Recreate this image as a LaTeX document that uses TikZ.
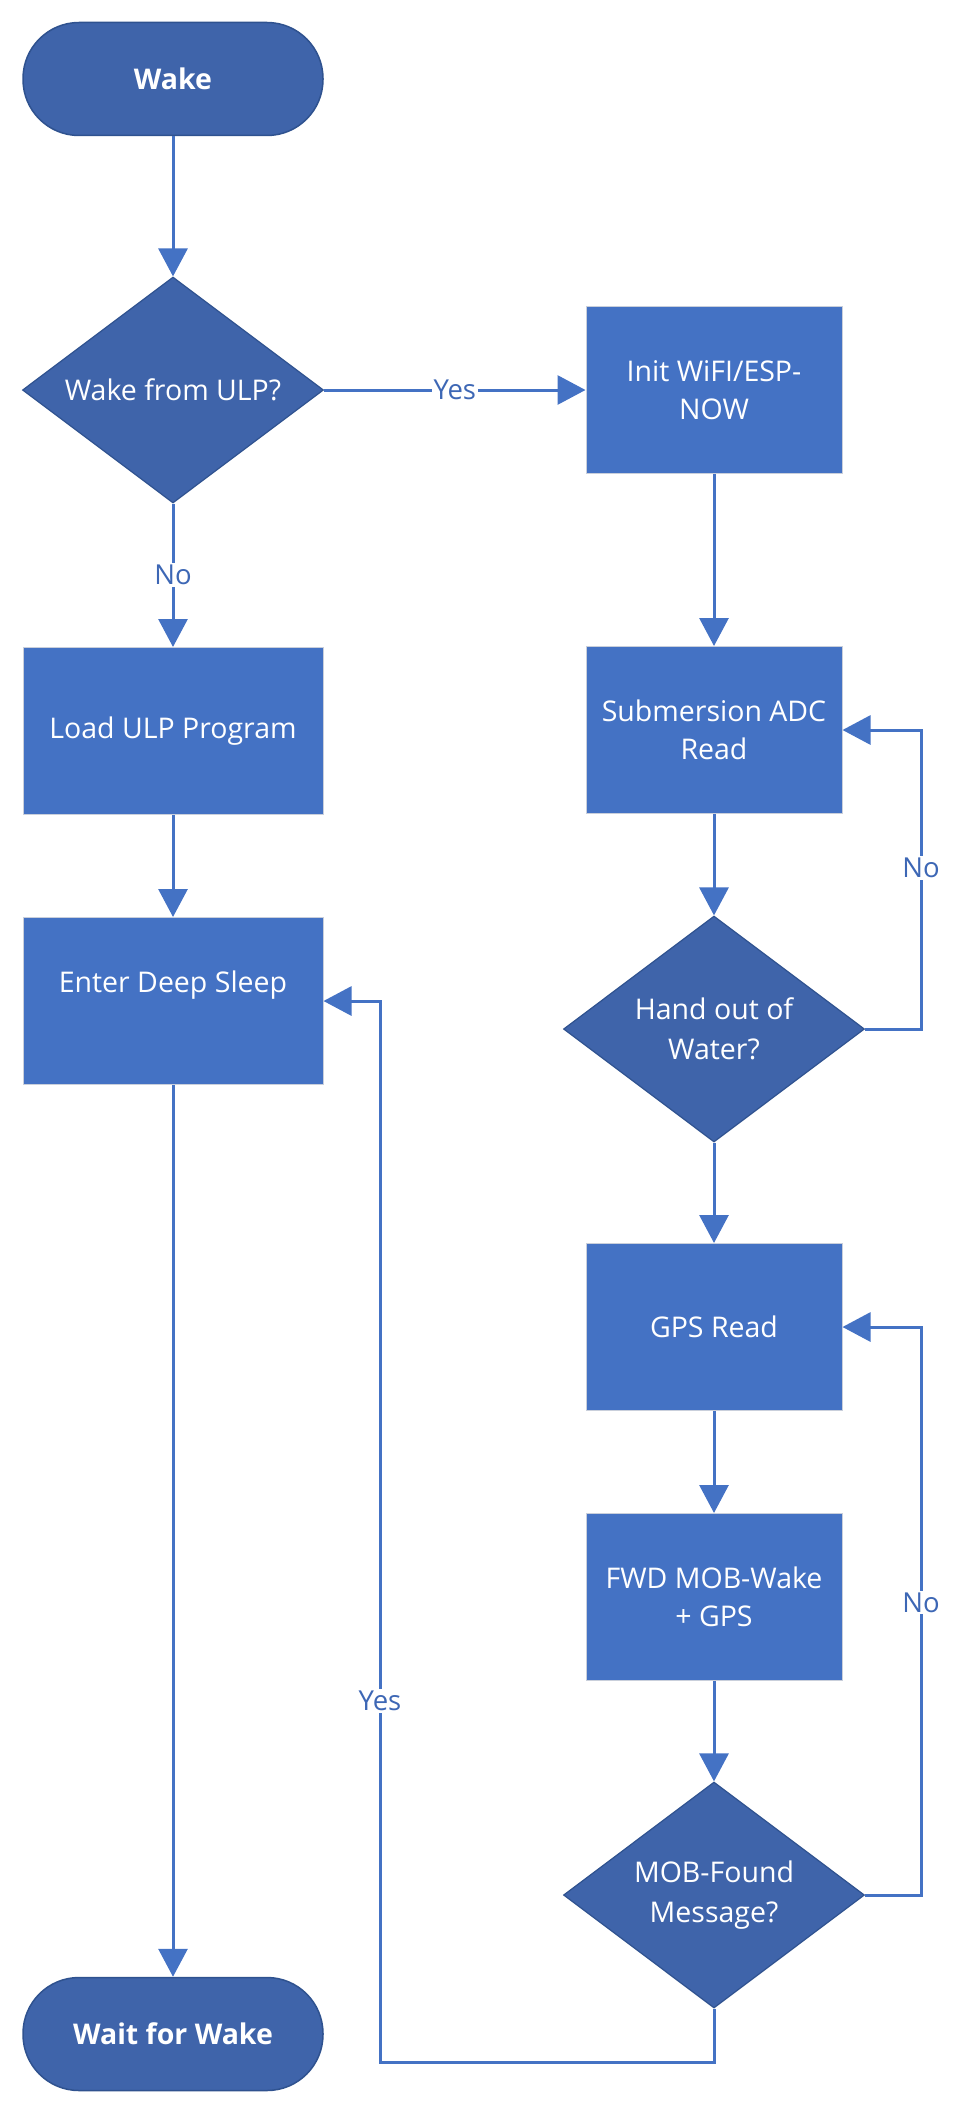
\documentclass[tikz,border=0pt]{standalone}
\usepackage{fontspec}
\setmainfont{Open Sans}
\usetikzlibrary{shapes.geometric,arrows.meta,calc}
\definecolor{boxblue}{HTML}{4472C4}
\definecolor{darkblue}{HTML}{3F64AA}
\definecolor{edgeblue}{HTML}{2F528F}
\definecolor{boxedge}{HTML}{C9CFDB}
\definecolor{lblblue}{HTML}{3D67B5}
\begin{document}
\begin{tikzpicture}[x=1pt,y=-1pt,
  every node/.style={font=\fontsize{28.5}{38}\selectfont},
  term/.style={rectangle,rounded corners=56pt,minimum width=300pt,minimum height=113pt,inner sep=0pt,fill=darkblue,draw=edgeblue,line width=1.5pt,text=white,font=\fontsize{28.5}{38}\selectfont\bfseries},
  procL/.style={rectangle,minimum width=300pt,minimum height=167pt,inner sep=0pt,fill=boxblue,draw=boxedge,line width=1pt,text=white,align=center},
  procR/.style={rectangle,minimum width=256pt,minimum height=167pt,inner sep=0pt,fill=boxblue,draw=boxedge,line width=1pt,text=white,align=center},
  dec/.style={diamond,minimum width=301pt,minimum height=226pt,inner sep=0pt,fill=darkblue,draw=edgeblue,line width=1.2pt},
  dtxt/.style={text=white,align=center,font=\fontsize{28.5}{40}\selectfont},
  arr/.style={draw=boxblue,line width=3pt,-{Triangle[width=29pt,length=28pt]}},
  lbl/.style={fill=white,text=lblblue,inner sep=2pt,font=\fontsize{27.5}{32}\selectfont}
]
\useasboundingbox (0,0) rectangle (977,2114);
% left column
\node[term] (wake) at (173,79) {Wake};
\node[dec,label={[dtxt]center:Wake from ULP?}] (d1) at (173,390) {};
\node[procL] (load) at (173,731) {Load ULP Program};
\node[procL] (sleep) at (173,1001) {Enter Deep Sleep\\ \mbox{}};
\node[term] (wait) at (173,2034) {Wait for Wake};
% right column
\node[procR] (init) at (714,390) {Init WiFI/ESP-\\NOW};
\node[procR] (sub) at (714,730) {Submersion ADC\\Read};
\node[dec,label={[dtxt]center:Hand out of\\Water?}] (hand) at (714,1029) {};
\node[procR] (gps) at (714,1327) {GPS Read};
\node[procR] (fwd) at (714,1597) {FWD MOB-Wake\\+ GPS};
\node[dec,label={[dtxt]center:MOB-Found\\Message?}] (mob) at (714,1895) {};
% routing coordinates
\coordinate (rx) at (921,0);
\coordinate (lx) at (380,0);
\coordinate (by) at (0,2062);
% connectors
\draw[arr] (wake.south) -- (d1.north);
\draw[arr] (d1.east) -- node[lbl]{Yes} (init.west);
\draw[arr] (d1.south) -- node[lbl]{No} (load.north);
\draw[arr] (load.south) -- (sleep.north);
\draw[arr] (sleep.south) -- (wait.north);
\draw[arr] (init.south) -- (sub.north);
\draw[arr] (sub.south) -- (hand.north);
\draw[arr] (hand.east) -- (hand.east -| rx) -- node[lbl,pos=0.54]{No} (sub.east -| rx) -- (sub.east);
\draw[arr] (hand.south) -- (gps.north);
\draw[arr] (gps.south) -- (fwd.north);
\draw[arr] (fwd.south) -- (mob.north);
\draw[arr] (mob.east) -- (mob.east -| rx) -- node[lbl,pos=0.515]{No} (gps.east -| rx) -- (gps.east);
\draw[arr] (mob.south) -- (mob.south |- by) -- (lx |- by) -- node[lbl,pos=0.34]{Yes} (lx |- sleep.east) -- (sleep.east);
\end{tikzpicture}
\end{document}
